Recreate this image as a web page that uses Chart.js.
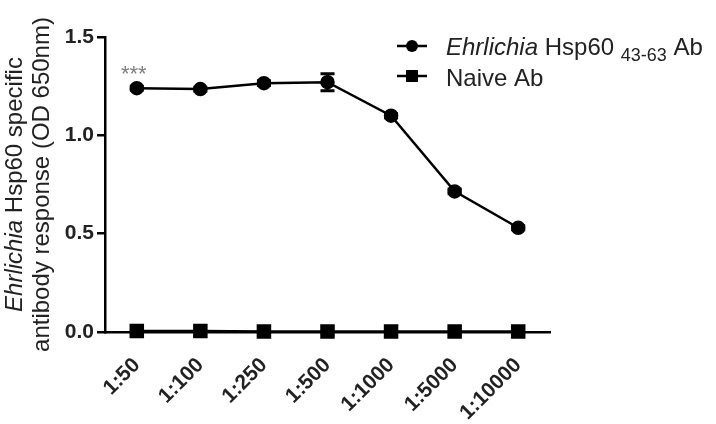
<!DOCTYPE html>
<html>
<head>
<meta charset="utf-8">
<script src="https://cdn.jsdelivr.net/npm/chart.js@4/dist/chart.umd.min.js"></script>
<style>
  html, body { margin: 0; padding: 0; background: #fff; }
  #wrap { width: 716px; height: 424px; }
</style>
</head>
<body>
<div id="wrap"><canvas id="chart" width="716" height="424"></canvas></div>
<script>
// data
const dilutions = ['1:50', '1:100', '1:250', '1:500', '1:1000', '1:5000', '1:10000'];
const hspValues = [1.24, 1.235, 1.265, 1.27, 1.10, 0.715, 0.53];
const hspErrors = [0.01, 0.01, 0.012, 0.043, 0.01, 0.012, 0.01];
const naiveValues = [0.005, 0.005, 0.003, 0.003, 0.003, 0.003, 0.003];
const yTicks = [0, 0.5, 1.0, 1.5];
const starLabel = '***';

const FONT = '"Liberation Sans", Arial, sans-serif';

// error bars drawn through the y scale
const errorBars = {
  id: 'errorBars',
  afterDatasetsDraw(chart) {
    const ctx = chart.ctx;
    const y = chart.scales.y;
    const meta = chart.getDatasetMeta(0);
    ctx.save();
    ctx.strokeStyle = '#000';
    ctx.lineWidth = 3;
    meta.data.forEach((pt, i) => {
      const v = hspValues[i], e = hspErrors[i];
      const top = y.getPixelForValue(v + e);
      const bot = y.getPixelForValue(v - e);
      ctx.beginPath();
      ctx.moveTo(pt.x, top); ctx.lineTo(pt.x, bot);
      ctx.moveTo(pt.x - 7, top); ctx.lineTo(pt.x + 7, top);
      ctx.moveTo(pt.x - 7, bot); ctx.lineTo(pt.x + 7, bot);
      ctx.stroke();
    });
    // significance stars over first point
    const p0 = meta.data[0];
    ctx.fillStyle = '#808080';
    ctx.font = '22px ' + FONT;
    ctx.textAlign = 'center';
    ctx.textBaseline = 'alphabetic';
    ctx.fillText(starLabel, p0.x - 3, p0.y - 7);
    ctx.restore();
  }
};

// rotated y title with italic genus name
const yTitle = {
  id: 'yTitle',
  afterDraw(chart) {
    const ctx = chart.ctx;
    const area = chart.chartArea;
    const cy = (area.top + area.bottom) / 2;
    ctx.save();
    ctx.fillStyle = '#222';
    ctx.textBaseline = 'alphabetic';
    ctx.translate(0, cy);
    ctx.rotate(-Math.PI / 2);
    const it = 'italic 24px ' + FONT, rg = '24px ' + FONT;
    ctx.font = it;
    const w1 = ctx.measureText('Ehrlichia').width;
    ctx.font = rg;
    const w2 = ctx.measureText(' Hsp60 specific').width;
    let x = -(w1 + w2) / 2;
    ctx.font = it;
    ctx.fillText('Ehrlichia', x, 22);
    ctx.font = rg;
    ctx.fillText(' Hsp60 specific', x + w1, 22);
    ctx.textAlign = 'center';
    ctx.fillText('antibody response (OD 650nm)', 0, 49);
    ctx.restore();
  }
};

// custom legend, top right
const legendBox = {
  id: 'legendBox',
  afterDraw(chart) {
    const ctx = chart.ctx;
    ctx.save();
    ctx.strokeStyle = '#000';
    ctx.fillStyle = '#000';
    ctx.lineWidth = 2.5;
    const mx = 412;
    [46, 76].forEach((yy, i) => {
      ctx.beginPath();
      ctx.moveTo(mx - 15, yy); ctx.lineTo(mx + 15, yy);
      ctx.stroke();
      ctx.beginPath();
      if (i === 0) ctx.arc(mx, yy, 6, 0, Math.PI * 2);
      else ctx.rect(mx - 6, yy - 6, 12, 12);
      ctx.fill();
    });
    ctx.fillStyle = '#222';
    ctx.textBaseline = 'alphabetic';
    let x = 446;
    ctx.font = 'italic 24px ' + FONT;
    ctx.fillText('Ehrlichia', x, 55);
    x += ctx.measureText('Ehrlichia').width;
    ctx.font = '24px ' + FONT;
    ctx.fillText(' Hsp60 ', x, 55);
    x += ctx.measureText(' Hsp60 ').width;
    ctx.font = '18px ' + FONT;
    ctx.fillText('43-63', x, 61);
    x += ctx.measureText('43-63').width;
    ctx.font = '24px ' + FONT;
    ctx.fillText(' Ab', x, 55);
    ctx.fillText('Naive Ab', 446, 86);
    ctx.restore();
  }
};

new Chart(document.getElementById('chart'), {
  type: 'line',
  data: {
    labels: dilutions,
    datasets: [
      {
        label: 'Ehrlichia Hsp60 43-63 Ab',
        data: hspValues,
        borderColor: '#000',
        backgroundColor: '#000',
        borderWidth: 2.5,
        pointStyle: 'circle',
        pointRadius: 6,
        clip: false
      },
      {
        label: 'Naive Ab',
        data: naiveValues,
        borderColor: '#000',
        backgroundColor: '#000',
        borderWidth: 2.5,
        pointStyle: 'rect',
        pointRadius: 8.5,
        clip: false
      }
    ]
  },
  options: {
    responsive: false,
    animation: false,
    layout: { padding: { left: 58, right: 166, top: 37, bottom: 4 } },
    plugins: {
      legend: { display: false },
      tooltip: { enabled: false }
    },
    scales: {
      x: {
        offset: true,
        grid: { display: true, drawOnChartArea: false, color: '#000', tickLength: 5, lineWidth: 2 },
        border: { color: '#000', width: 2.5 },
        ticks: {
          color: '#222',
          font: { family: FONT, size: 21, weight: 'bold' },
          minRotation: 45, maxRotation: 45, padding: 16
        },
        afterFit: (s) => { s.height = 88; }
      },
      y: {
        min: 0, max: 1.5,
        afterBuildTicks: (s) => { s.ticks = yTicks.map(v => ({ value: v })); },
        grid: { display: true, drawOnChartArea: false, color: '#000', tickLength: 8, lineWidth: 2.5 },
        border: { color: '#000', width: 2.5 },
        ticks: {
          color: '#222',
          font: { family: FONT, size: 21, weight: 'bold' },
          padding: 3,
          callback: (v) => Number(v).toFixed(1)
        },
        afterFit: (s) => { s.width = 47; }
      }
    }
  },
  plugins: [errorBars, yTitle, legendBox]
});
</script>
</body>
</html>
